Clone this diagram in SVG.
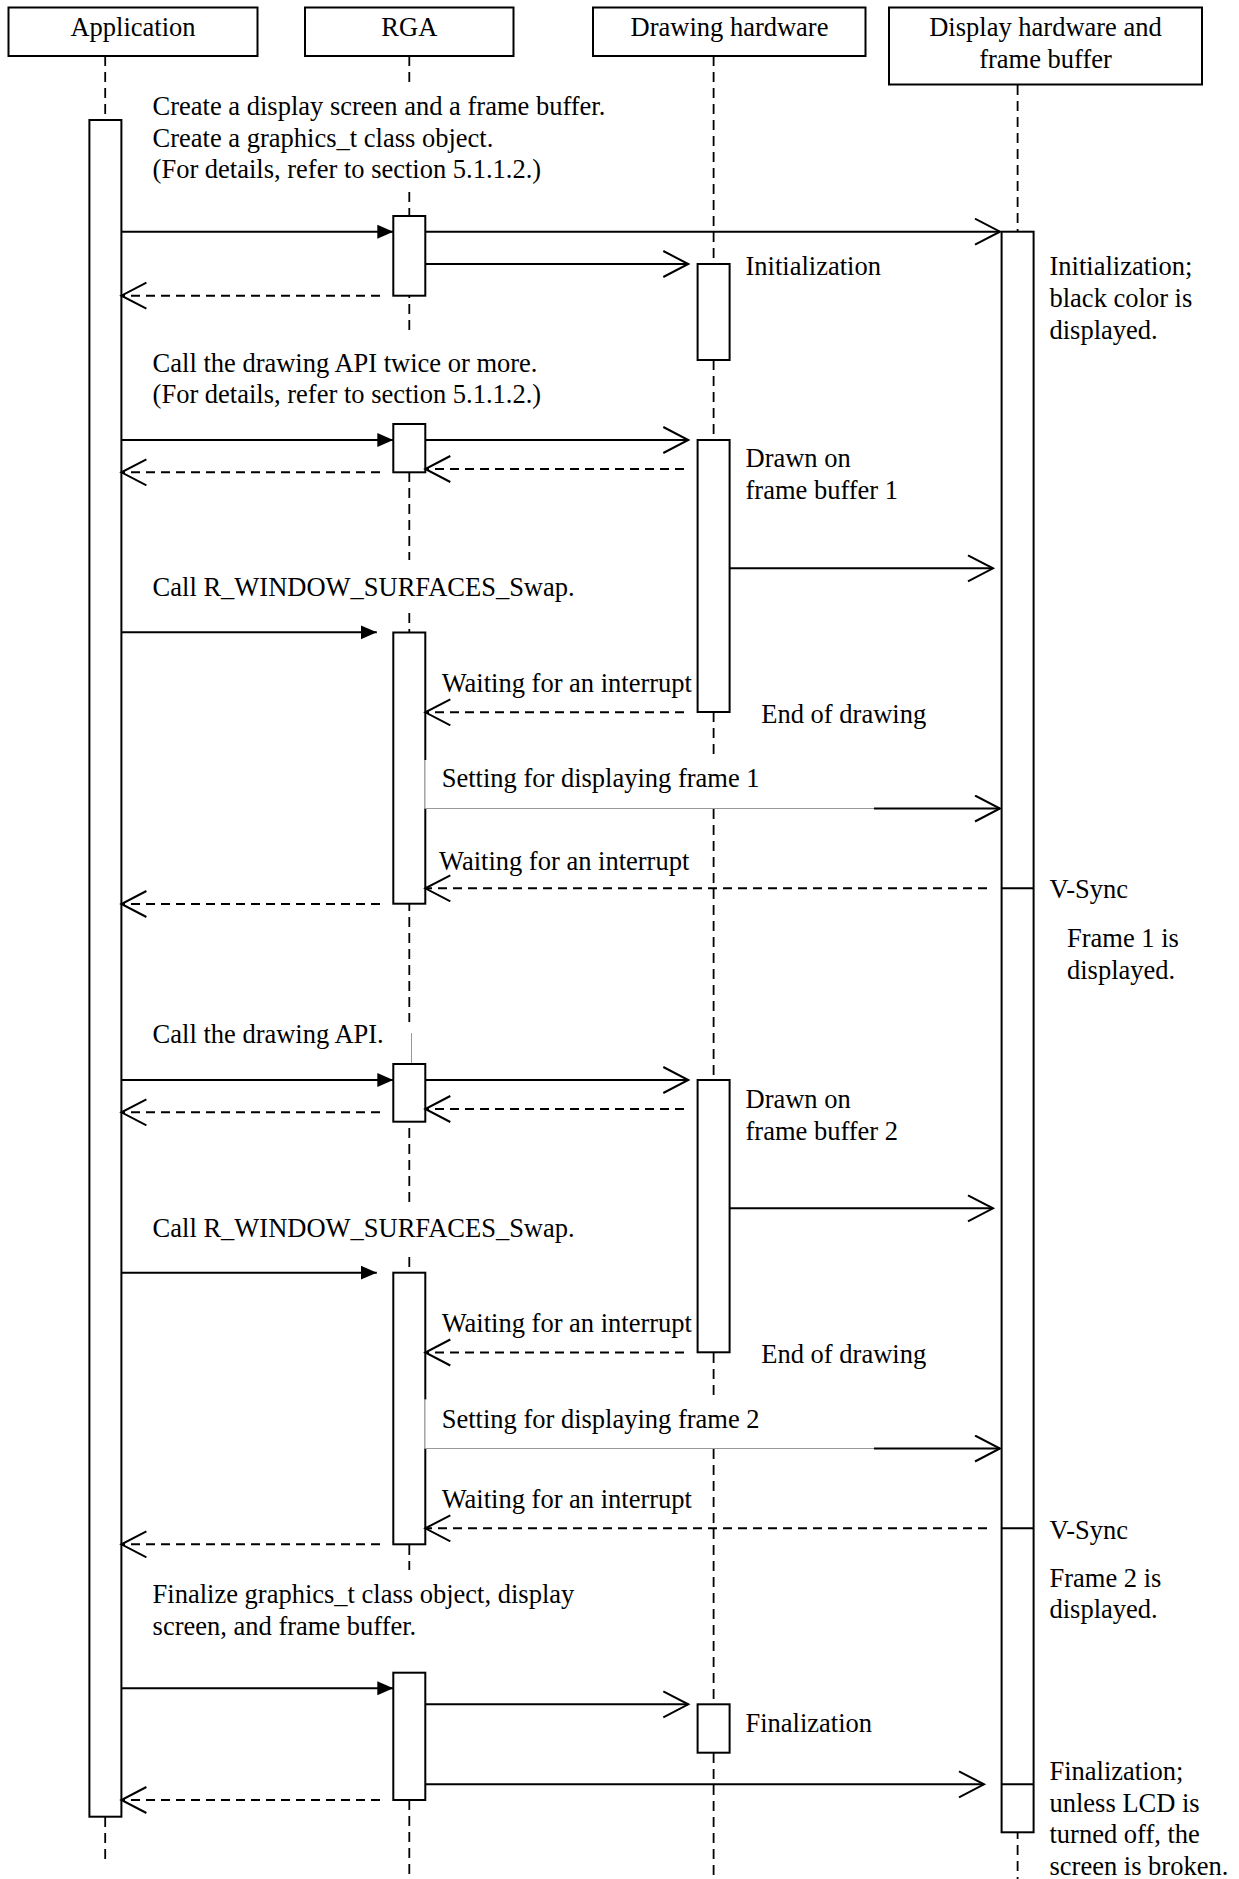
<svg xmlns="http://www.w3.org/2000/svg" width="1239" height="1879" viewBox="0 0 1239 1879">
  <style>
    text { font-family: "Liberation Serif", "Times New Roman", serif; font-size: 26.5px; fill: #000; }
    .box { fill: #fff; stroke: #000; stroke-width: 2; }
    .bar { fill: #fff; stroke: #000; stroke-width: 2; }
    .life { fill: none; stroke: #000; stroke-width: 1.8; stroke-dasharray: 10 6; }
    .msg { fill: none; stroke: #000; stroke-width: 2; }
    .ret { fill: none; stroke: #000; stroke-width: 2; stroke-dasharray: 9 6; }
    .edge { fill: none; stroke: #999; stroke-width: 1; }
    .mid { text-anchor: middle; }
  </style>
  <defs>
    <marker id="open" markerUnits="userSpaceOnUse" markerWidth="30" markerHeight="30" refX="26" refY="14" orient="auto">
      <path d="M1,1 L26,14 L1,27" fill="none" stroke="#000" stroke-width="2" stroke-dasharray="none"/>
    </marker>
    <marker id="solid" markerUnits="userSpaceOnUse" markerWidth="20" markerHeight="16" refX="16" refY="8" orient="auto">
      <path d="M0,1 L16,8 L0,15 Z" fill="#000" stroke="none"/>
    </marker>
  </defs>
  <rect width="1239" height="1879" fill="#fff"/>

  <!-- lifelines -->
  <g id="lifelines">
    <path class="life" d="M105.2,56 V120 M105.2,1817 V1864"/>
    <path class="life" d="M409.3,56 V87 M409.3,192 V333 M409.3,424 V560 M409.3,613 V1022 M409.3,1064 V1207 M409.3,1257 V1570 M409.3,1672 V1879"/>
    <path class="life" d="M713.6,56 V760 M713.6,809 V1398 M713.6,1449 V1879"/>
    <path class="life" d="M1017.6,85 V1879"/>
    <path class="edge" d="M411.5,1033 V1063"/>
  </g>

  <!-- participants -->
  <g id="application">
    <rect class="box" x="8.5" y="7.5" width="249" height="48.5"/>
    <text class="mid" x="133" y="36">Application</text>
  </g>
  <g id="rga">
    <rect class="box" x="305" y="7.5" width="208.5" height="48.5"/>
    <text class="mid" x="409.3" y="36">RGA</text>
  </g>
  <g id="drawing-hardware">
    <rect class="box" x="593" y="7.5" width="272.5" height="48.5"/>
    <text class="mid" x="729.5" y="36">Drawing hardware</text>
  </g>
  <g id="display-hardware">
    <rect class="box" x="889" y="7.5" width="313" height="77"/>
    <text class="mid" x="1045.5" y="36">Display hardware and</text>
    <text class="mid" x="1045.5" y="68">frame buffer</text>
  </g>

  <!-- activation bars -->
  <g id="app-activation">
    <rect class="bar" x="89.4" y="120" width="32" height="1696.7"/>
  </g>
  <g id="rga-activations">
    <rect class="bar" x="393.3" y="216" width="32" height="79.7"/>
    <rect class="bar" x="393.3" y="424" width="32" height="48.3"/>
    <rect class="bar" x="393.3" y="632.5" width="32" height="271.2"/>
    <rect class="bar" x="393.3" y="1064" width="32" height="57.7"/>
    <rect class="bar" x="393.3" y="1272.7" width="32" height="271.6"/>
    <rect class="bar" x="393.3" y="1672.7" width="32" height="127.3"/>
  </g>
  <g id="drawing-activations">
    <rect class="bar" x="697.6" y="264" width="32" height="96"/>
    <rect class="bar" x="697.6" y="440" width="32" height="272"/>
    <rect class="bar" x="697.6" y="1080" width="32" height="272.3"/>
    <rect class="bar" x="697.6" y="1704.3" width="32" height="48.4"/>
  </g>
  <g id="display-activation">
    <rect class="bar" x="1001.6" y="231.7" width="32" height="1600.6"/>
    <path class="msg" d="M1001.6,888.3 H1033.6 M1001.6,1528.3 H1033.6 M1001.6,1784.3 H1033.6"/>
  </g>

  <!-- label backings for the frame-setting messages -->
  <g id="setting-labels">
    <rect x="424.4" y="760" width="449.6" height="48.5" fill="#fff"/>
    <path class="edge" d="M425,760 V808.5 H874"/>
    <rect x="424.4" y="1399.5" width="449.6" height="49" fill="#fff"/>
    <path class="edge" d="M425,1399.5 V1448.5 H874"/>
  </g>

  <!-- messages -->
  <g id="connectors">
    <!-- initialization -->
    <path class="msg" d="M121.4,231.7 H393.3" marker-end="url(#solid)"/>
    <path class="msg" d="M425.3,231.7 H1000" marker-end="url(#open)"/>
    <path class="msg" d="M425.3,264 H688.3" marker-end="url(#open)"/>
    <path class="ret" d="M380,295.7 H121.4" marker-end="url(#open)"/>
    <!-- drawing API -->
    <path class="msg" d="M121.4,440 H393.3" marker-end="url(#solid)"/>
    <path class="msg" d="M425.3,440 H688.3" marker-end="url(#open)"/>
    <path class="ret" d="M684,469 H425.3" marker-end="url(#open)"/>
    <path class="ret" d="M380,472.3 H121.4" marker-end="url(#open)"/>
    <path class="msg" d="M729.6,568.3 H993" marker-end="url(#open)"/>
    <!-- swap, frame 1 -->
    <path class="msg" d="M121.4,632.3 H376.8" marker-end="url(#solid)"/>
    <path class="ret" d="M684,712.3 H425.3" marker-end="url(#open)"/>
    <path class="msg" d="M874,808.5 H1000" marker-end="url(#open)"/>
    <path class="ret" d="M987,888.3 H425.3" marker-end="url(#open)"/>
    <path class="ret" d="M380,904 H121.4" marker-end="url(#open)"/>
    <!-- drawing API, frame 2 -->
    <path class="msg" d="M121.4,1080 H393.3" marker-end="url(#solid)"/>
    <path class="msg" d="M425.3,1080 H688.3" marker-end="url(#open)"/>
    <path class="ret" d="M684,1109 H425.3" marker-end="url(#open)"/>
    <path class="ret" d="M380,1112.3 H121.4" marker-end="url(#open)"/>
    <path class="msg" d="M729.6,1208.3 H993" marker-end="url(#open)"/>
    <!-- swap, frame 2 -->
    <path class="msg" d="M121.4,1272.7 H376.8" marker-end="url(#solid)"/>
    <path class="ret" d="M684,1352.5 H425.3" marker-end="url(#open)"/>
    <path class="msg" d="M874,1448.5 H1000" marker-end="url(#open)"/>
    <path class="ret" d="M987,1528.3 H425.3" marker-end="url(#open)"/>
    <path class="ret" d="M380,1544.3 H121.4" marker-end="url(#open)"/>
    <!-- finalization -->
    <path class="msg" d="M121.4,1688.3 H393.3" marker-end="url(#solid)"/>
    <path class="msg" d="M425.3,1704.3 H688.3" marker-end="url(#open)"/>
    <path class="msg" d="M425.3,1784.3 H984" marker-end="url(#open)"/>
    <path class="ret" d="M380,1800 H121.4" marker-end="url(#open)"/>
  </g>

  <!-- step notes -->
  <g id="notes">
    <text x="152.6" y="115">Create a display screen and a frame buffer.</text>
    <text x="152.6" y="146.7">Create a graphics_t class object.</text>
    <text x="152.6" y="178">(For details, refer to section 5.1.1.2.)</text>
    <text x="745.5" y="275">Initialization</text>
    <text x="1049.5" y="275">Initialization;</text>
    <text x="1049.5" y="307">black color is</text>
    <text x="1049.5" y="339">displayed.</text>

    <text x="152.6" y="371.7">Call the drawing API twice or more.</text>
    <text x="152.6" y="403.3">(For details, refer to section 5.1.1.2.)</text>
    <text x="745.5" y="467.3">Drawn on</text>
    <text x="745.5" y="499">frame buffer 1</text>

    <text x="152.6" y="596">Call R_WINDOW_SURFACES_Swap.</text>
    <text x="441.7" y="691.7">Waiting for an interrupt</text>
    <text x="761.3" y="723.3">End of drawing</text>
    <text x="441.7" y="786.7">Setting for displaying frame 1</text>
    <text x="439" y="870">Waiting for an interrupt</text>
    <text x="1049.5" y="898.3">V-Sync</text>
    <text x="1067" y="946.7">Frame 1 is</text>
    <text x="1067" y="979.3">displayed.</text>

    <text x="152.6" y="1043.3">Call the drawing API.</text>
    <text x="745.5" y="1108.3">Drawn on</text>
    <text x="745.5" y="1140">frame buffer 2</text>

    <text x="152.6" y="1236.7">Call R_WINDOW_SURFACES_Swap.</text>
    <text x="441.7" y="1331.7">Waiting for an interrupt</text>
    <text x="761.3" y="1363.3">End of drawing</text>
    <text x="441.7" y="1428.3">Setting for displaying frame 2</text>
    <text x="441.7" y="1508.3">Waiting for an interrupt</text>
    <text x="1049.5" y="1539.3">V-Sync</text>
    <text x="1049.5" y="1586.5">Frame 2 is</text>
    <text x="1049.5" y="1618.3">displayed.</text>

    <text x="152.6" y="1603.3">Finalize graphics_t class object, display</text>
    <text x="152.6" y="1635">screen, and frame buffer.</text>
    <text x="745.5" y="1731.7">Finalization</text>
    <text x="1049.5" y="1780">Finalization;</text>
    <text x="1049.5" y="1811.7">unless LCD is</text>
    <text x="1049.5" y="1843.3">turned off, the</text>
    <text x="1049.5" y="1875">screen is broken.</text>
  </g>
</svg>
